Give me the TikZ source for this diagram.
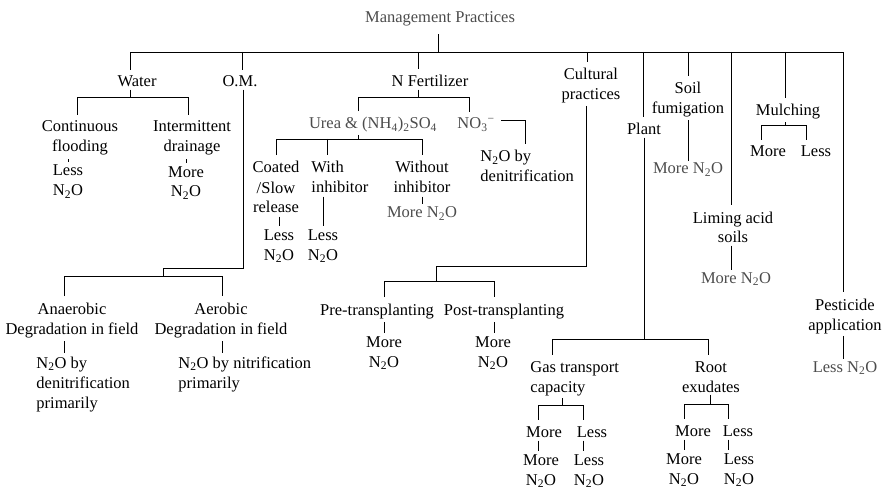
\documentclass[tikz,border=0pt]{standalone}
\usepackage{fontspec}
\setmainfont{Liberation Serif}
\newcommand{\nto}{N\textsubscript{2}O}

\begin{document}
\begin{tikzpicture}[x=1pt,y=-1pt,inner sep=2pt,line width=0.9pt,
  every node/.style={anchor=base,align=center,font=\fontsize{16.5}{20}\selectfont},
  lite/.style={text=black!70},
  lft/.style={anchor=base west,align=left},
  stub/.style={shorten <=1pt,shorten >=1pt},
  bar/.style={shorten <=4pt,shorten >=4pt},
  drop/.style={shorten >=4pt}]

\useasboundingbox (0,0) rectangle (886,489);

% top level (base = last line)
\node[lite] (mp) at (440,23) {Management Practices};

\node (water) at (137,87) {Water};
\node (om) at (240,87) {O.M.};
\node (nfert) at (430,87) {N Fertilizer};
\node (cult) at (591,100) {Cultural\\practices};
\node (plant) at (644,135) {Plant};
\node (soil) at (688,114) {Soil\\fumigation};
\node (liming) at (733,243) {Liming acid\\soils};
\node (mulch) at (788,116) {Mulching};
\node (pest) at (845,330) {Pesticide\\application};

% water
\node (contin) at (80,152) {Continuous\\flooding};
\node (lessA) at (68,196) {Less\\\nto};
\node (interm) at (192,152) {Intermittent\\drainage};
\node (moreA) at (186,197) {More\\\nto};

% O.M.
\node (anaer) at (72,334) {Anaerobic\\Degradation in field};
\node[lft] (anaern) at (34,408) {\nto{} by\\denitrification\\primarily};
\node (aer) at (221,334) {Aerobic\\Degradation in field};
\node[lft] (aern) at (176,388) {\nto{} by nitrification\\primarily};

% N fertilizer
\node[lite] (urea) at (373,129) {Urea \& (NH\textsubscript{4})\textsubscript{2}SO\textsubscript{4}};
\node[lite] (no3) at (476,129) {NO\textsubscript{3}\textsuperscript{−}};
\node[lft] (no3n) at (478,182) {\nto{} by\\denitrification};
\node (coated) at (276,213) {Coated\\/Slow\\release};
\node (lessB) at (279,260) {Less\\\nto};
\node[lft] (with) at (309,193) {With\\inhibitor};
\node (lessC) at (323,260) {Less\\\nto};
\node (without) at (422,193) {Without\\inhibitor};
\node[lite] (moreB) at (422,218) {More \nto};

% cultural practices
\node (pre) at (377,315) {Pre-transplanting};
\node (moreC) at (384,367) {More\\\nto};
\node (post) at (504,315) {Post-transplanting};
\node (moreD) at (493,367) {More\\\nto};

% plant
\node[lft] (gas) at (528,392) {Gas transport\\capacity};
\node (gmore) at (544,437) {More};
\node (gless) at (592,437) {Less};
\node (gmoreN) at (541,485) {More\\\nto};
\node (glessN) at (589,485) {Less\\\nto};
\node (root) at (711,392) {Root\\exudates};
\node (rmore) at (693,436) {More};
\node (rless) at (738,436) {Less};
\node (rmoreN) at (684,484) {More\\\nto};
\node (rlessN) at (739,484) {Less\\\nto};

% soil, liming, mulching, pesticide
\node[lite] (soilN) at (688,174) {More \nto};
\node[lite] (limingN) at (736,283) {More \nto};
\node (mmore) at (768,157) {More};
\node (mless) at (816,157) {Less};
\node[lite] (pestN) at (845,372) {Less \nto};

% main bar
\coordinate (j0) at (438,52);
\coordinate (jW) at (130,52);
\coordinate (jO) at (242,52);
\coordinate (jN) at (418,52);
\coordinate (jC) at (587,52);
\coordinate (jPl) at (643,52);
\coordinate (jS) at (688,52);
\coordinate (jL) at (731,52);
\coordinate (jM) at (785,52);
\coordinate (jPe) at (843,52);

\draw[shorten <=5pt] (j0 |- mp.south) -- (j0);
\draw[bar] (jW |- water.north) -- (jW) -- (jPe) -- (jPe |- pest.north);
\draw[drop] (jO) -- (jO |- om.north);
\draw[drop] (jN) -- (jN |- nfert.north);
\draw[drop] (jC) -- (jC |- cult.north);
\draw[drop] (jPl) -- (jPl |- plant.north);
\draw[drop] (jS) -- (jS |- soil.north);
\draw[drop] (jL) -- (jL |- liming.north);
\draw[drop] (jM) -- (jM |- mulch.north);

% water
\coordinate (wb) at (130,97);
\coordinate (wb1) at (77,97);
\coordinate (wb2) at (188,97);
\draw (wb |- water.south) -- (wb);
\draw[bar] (wb1 |- contin.north) -- (wb1) -- (wb2) -- (wb2 |- interm.north);
\draw[stub] (lessA.north |- contin.south) -- (lessA.north);
\draw[stub] (moreA.north |- interm.south) -- (moreA.north);

% O.M.
\coordinate (ob) at (243,268);
\coordinate (ob2) at (163,268);
\coordinate (ob3) at (163,276);
\coordinate (ob4) at (64,276);
\coordinate (ob5) at (222,276);
\draw (ob |- om.south) -- (ob) -- (ob2) -- (ob3);
\draw[bar] (ob4 |- anaer.north) -- (ob4) -- (ob5) -- (ob5 |- aer.north);
\draw[stub] (ob4 |- anaer.south) -- (ob4 |- anaern.north);
\draw[stub] (ob5 |- aer.south) -- (ob5 |- aern.north);

% N fertilizer
\coordinate (nb) at (418,97);
\coordinate (nb1) at (358,97);
\coordinate (nb2) at (469,97);
\draw (nb |- nfert.south) -- (nb);
\draw[bar] (nb1 |- urea.north) -- (nb1) -- (nb2) -- (nb2 |- no3.north);
\coordinate (n3) at (525,120);
\draw[bar] (no3.east |- n3) -- (n3) -- (n3 |- no3n.north);

\coordinate (ub) at (358,139);
\coordinate (ub1) at (276,139);
\coordinate (ub2) at (327,139);
\coordinate (ub3) at (422,139);
\draw (ub |- urea.south) -- (ub);
\draw[bar] (ub1 |- coated.north) -- (ub1) -- (ub3) -- (ub3 |- without.north);
\draw[drop] (ub2) -- (ub2 |- with.north);
\draw[stub] (lessB.north |- coated.south) -- (lessB.north);
\draw[stub] (lessC.north |- with.south) -- (lessC.north);
\draw[stub] (moreB.north |- without.south) -- (moreB.north);

% cultural practices
\coordinate (cb) at (586,266);
\coordinate (cb1) at (436,266);
\coordinate (cb2) at (436,281);
\coordinate (cb3) at (384,281);
\coordinate (cb4) at (494,281);
\draw (cb |- cult.south) -- (cb) -- (cb1) -- (cb2);
\draw[bar] (cb3 |- pre.north) -- (cb3) -- (cb4) -- (cb4 |- post.north);
\draw[stub] (cb3 |- pre.south) -- (cb3 |- moreC.north);
\draw[stub] (cb4 |- post.south) -- (cb4 |- moreD.north);

% plant
\coordinate (pb) at (644,339);
\coordinate (pb1) at (552,339);
\coordinate (pb2) at (708,339);
\draw (pb |- plant.south) -- (pb);
\draw[bar] (pb1 |- gas.north) -- (pb1) -- (pb2) -- (pb2 |- root.north);

\coordinate (gb) at (562,405);
\coordinate (gb1) at (538,405);
\coordinate (gb2) at (583,405);
\draw (gb |- gas.south) -- (gb);
\draw[bar] (gb1 |- gmore.north) -- (gb1) -- (gb2) -- (gb2 |- gless.north);
\draw[stub] (gb1 |- gmore.south) -- (gb1 |- gmoreN.north);
\draw[stub] (gb2 |- gless.south) -- (gb2 |- glessN.north);

\coordinate (rb) at (710,404);
\coordinate (rb1) at (684,404);
\coordinate (rb2) at (728,404);
\draw (rb |- root.south) -- (rb);
\draw[bar] (rb1 |- rmore.north) -- (rb1) -- (rb2) -- (rb2 |- rless.north);
\draw[stub] (rb1 |- rmore.south) -- (rb1 |- rmoreN.north);
\draw[stub] (rb2 |- rless.south) -- (rb2 |- rlessN.north);

% soil, liming, mulching, pesticide
\draw (jS |- soil.south) -- (jS |- soilN.north);
\draw (jL |- liming.south) -- (jL |- limingN.north);
\coordinate (mb) at (785,125);
\coordinate (mb1) at (761,125);
\coordinate (mb2) at (806,125);
\draw (mb |- mulch.south) -- (mb);
\draw[bar] (mb1 |- mmore.north) -- (mb1) -- (mb2) -- (mb2 |- mless.north);
\draw (jPe |- pest.south) -- (jPe |- pestN.north);

\end{tikzpicture}
\end{document}
